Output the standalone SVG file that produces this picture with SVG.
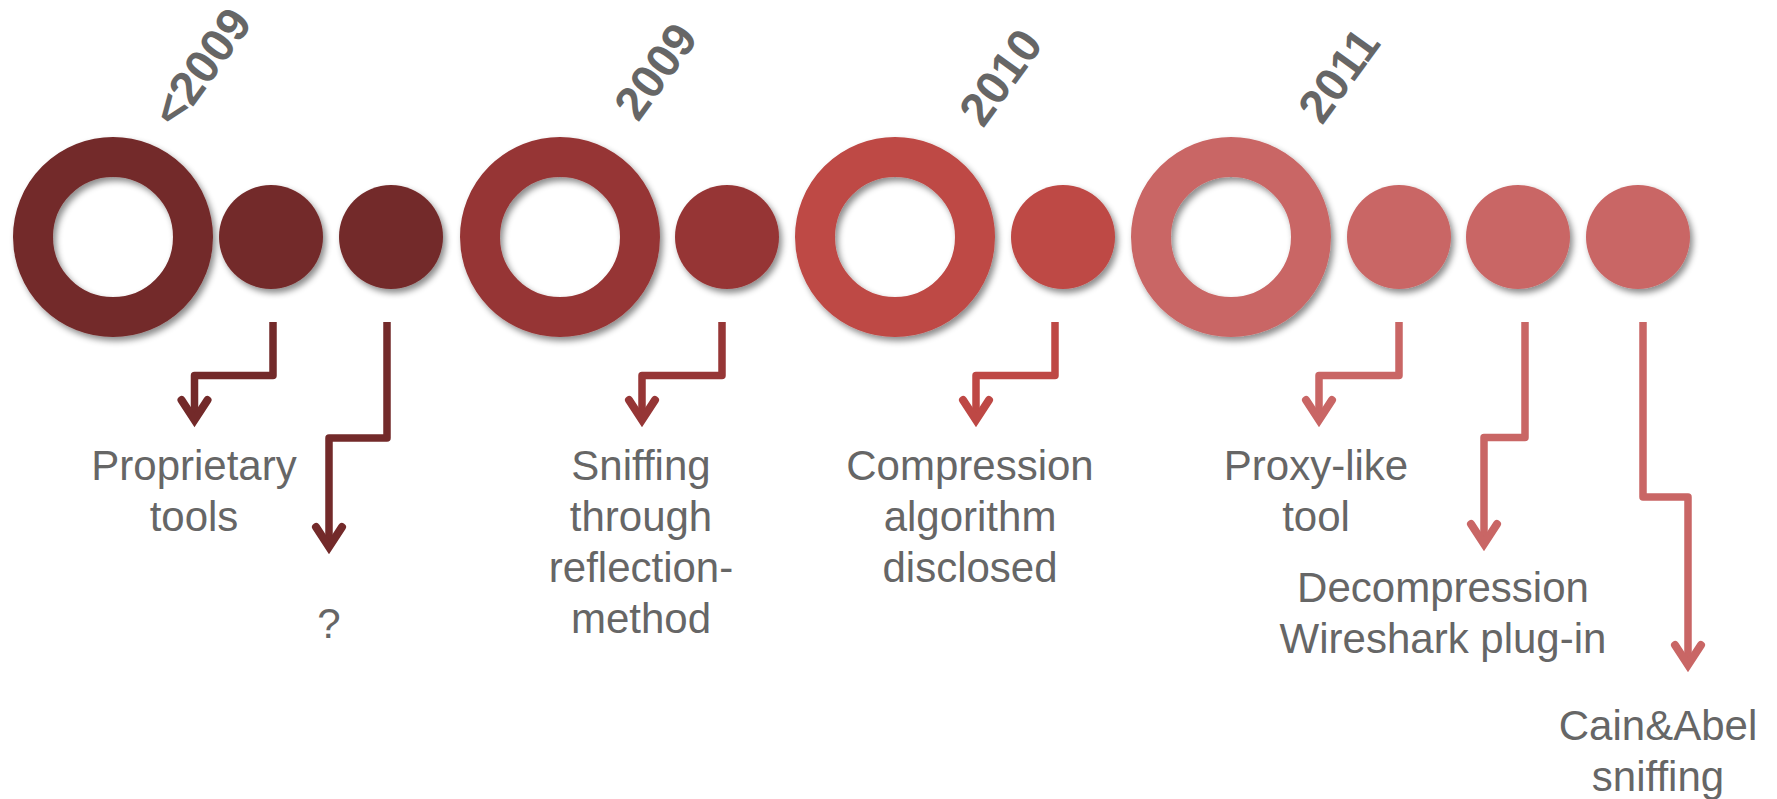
<svg xmlns="http://www.w3.org/2000/svg" width="1777" height="799" viewBox="0 0 1777 799">
  <defs>
    <filter id="sh" x="-20%" y="-20%" width="140%" height="140%">
      <feDropShadow dx="3" dy="4" stdDeviation="3" flood-color="#000" flood-opacity="0.45"/>
    </filter>
    <marker id="m1" markerUnits="userSpaceOnUse" orient="auto" refX="0" refY="0" markerWidth="40" markerHeight="40" viewBox="-30 -20 40 40" overflow="visible">
      <path d="M-20,-13 L0,0 L-20,13" fill="none" stroke="#732A2A" stroke-width="8" stroke-linecap="round" stroke-linejoin="miter" stroke-miterlimit="10"/>
    </marker>
    <marker id="m2" markerUnits="userSpaceOnUse" orient="auto" refX="0" refY="0" markerWidth="40" markerHeight="40" viewBox="-30 -20 40 40" overflow="visible">
      <path d="M-20,-13 L0,0 L-20,13" fill="none" stroke="#963636" stroke-width="8" stroke-linecap="round" stroke-linejoin="miter" stroke-miterlimit="10"/>
    </marker>
    <marker id="m3" markerUnits="userSpaceOnUse" orient="auto" refX="0" refY="0" markerWidth="40" markerHeight="40" viewBox="-30 -20 40 40" overflow="visible">
      <path d="M-20,-13 L0,0 L-20,13" fill="none" stroke="#BE4845" stroke-width="8" stroke-linecap="round" stroke-linejoin="miter" stroke-miterlimit="10"/>
    </marker>
    <marker id="m4" markerUnits="userSpaceOnUse" orient="auto" refX="0" refY="0" markerWidth="40" markerHeight="40" viewBox="-30 -20 40 40" overflow="visible">
      <path d="M-20,-13 L0,0 L-20,13" fill="none" stroke="#C96665" stroke-width="8" stroke-linecap="round" stroke-linejoin="miter" stroke-miterlimit="10"/>
    </marker>
  </defs>
  <style>
    .ring { fill: none; stroke-width: 40; filter: url(#sh); }
    .dot { filter: url(#sh); }
    .year { font-family: "Liberation Sans", Arial, sans-serif; font-weight: bold; font-size: 47px; fill: #666666; }
    .lbl { font-family: "Liberation Sans", Arial, sans-serif; font-size: 42px; fill: #666666; text-anchor: middle; }
    .conn { fill: none; stroke-width: 7.5; stroke-linejoin: round; stroke-linecap: butt; }
    .c1 { stroke: #732A2A; } .c2 { stroke: #963636; } .c3 { stroke: #BE4845; } .c4 { stroke: #C96665; }
    .f1 { fill: #732A2A; } .f2 { fill: #963636; } .f3 { fill: #BE4845; } .f4 { fill: #C96665; }
  </style>

  <g id="connectors">
    <path class="conn c1" d="M273,322 V375.5 H194.5 V420" marker-end="url(#m1)"/>
    <path class="conn c1" d="M387,322 V438 H329 V547" marker-end="url(#m1)"/>
    <path class="conn c2" d="M722,322 V375.5 H642 V420" marker-end="url(#m2)"/>
    <path class="conn c3" d="M1055,322 V375.5 H976 V420" marker-end="url(#m3)"/>
    <path class="conn c4" d="M1399,322 V375.5 H1319 V420" marker-end="url(#m4)"/>
    <path class="conn c4" d="M1525,322 V437.5 H1484 V544" marker-end="url(#m4)"/>
    <path class="conn c4" d="M1643,322 V497 H1688 V665" marker-end="url(#m4)"/>
  </g>

  <g id="year-lt2009">
    <circle class="ring c1" cx="113" cy="237" r="80"/>
    <text class="year" transform="translate(176,130) rotate(-54)">&lt;2009</text>
  </g>
  <g id="item-proprietary">
    <circle class="dot f1" cx="271" cy="237" r="52"/>
    <text class="lbl" x="194" y="480">Proprietary</text>
    <text class="lbl" x="194" y="531">tools</text>
  </g>
  <g id="item-unknown">
    <circle class="dot f1" cx="391" cy="237" r="52"/>
    <text class="lbl" x="329" y="638">?</text>
  </g>

  <g id="year-2009">
    <circle class="ring c2" cx="560" cy="237" r="80"/>
    <text class="year" transform="translate(638,123) rotate(-54)">2009</text>
  </g>
  <g id="item-sniffing">
    <circle class="dot f2" cx="727" cy="237" r="52"/>
    <text class="lbl" x="641" y="480">Sniffing</text>
    <text class="lbl" x="641" y="531">through</text>
    <text class="lbl" x="641" y="582">reflection-</text>
    <text class="lbl" x="641" y="633">method</text>
  </g>

  <g id="year-2010">
    <circle class="ring c3" cx="895" cy="237" r="80"/>
    <text class="year" transform="translate(983,129) rotate(-54)">2010</text>
  </g>
  <g id="item-compression">
    <circle class="dot f3" cx="1063" cy="237" r="52"/>
    <text class="lbl" x="970" y="480">Compression</text>
    <text class="lbl" x="970" y="531">algorithm</text>
    <text class="lbl" x="970" y="582">disclosed</text>
  </g>

  <g id="year-2011">
    <circle class="ring c4" cx="1231" cy="237" r="80"/>
    <text class="year" transform="translate(1322,126) rotate(-54)">2011</text>
  </g>
  <g id="item-proxy">
    <circle class="dot f4" cx="1399" cy="237" r="52"/>
    <text class="lbl" x="1316" y="480">Proxy-like</text>
    <text class="lbl" x="1316" y="531">tool</text>
  </g>
  <g id="item-wireshark">
    <circle class="dot f4" cx="1518" cy="237" r="52"/>
    <text class="lbl" x="1443" y="602">Decompression</text>
    <text class="lbl" x="1443" y="653">Wireshark plug-in</text>
  </g>
  <g id="item-cainabel">
    <circle class="dot f4" cx="1638" cy="237" r="52"/>
    <text class="lbl" x="1658" y="740">Cain&amp;Abel</text>
    <text class="lbl" x="1658" y="791">sniffing</text>
  </g>
</svg>
